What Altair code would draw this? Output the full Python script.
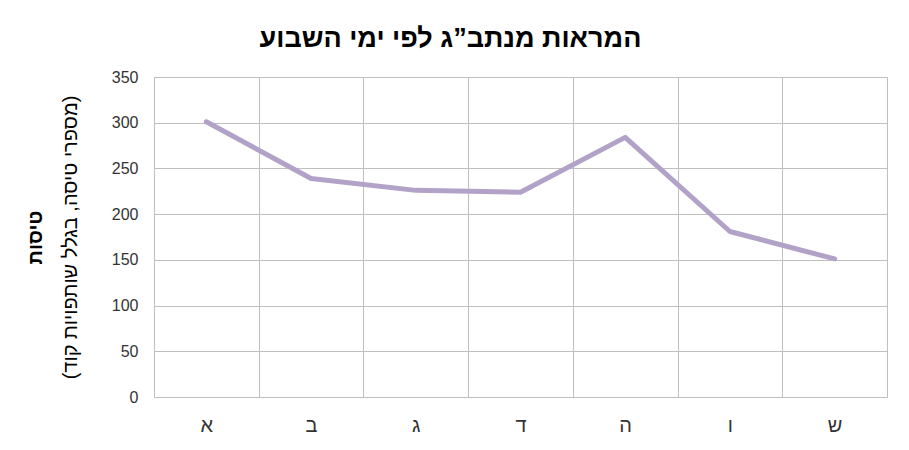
import altair as alt
import pandas as pd

days = ["א", "ב", "ג", "ד", "ה", "ו", "ש"]
flights = [301, 239, 226, 224, 284, 181, 151]
y_ticks = [0, 50, 100, 150, 200, 250, 300, 350]

df = pd.DataFrame({"day": days, "flights": flights})

FONT = "Liberation Sans"
HEB = "Liberation Sans"
GRID = "#bfbfbf"
LINE = "#b3a2c7"

x_enc = alt.X(
    "day:N",
    sort=days,
    bandPosition=0.5,
    scale=alt.Scale(type="band", paddingInner=0, paddingOuter=0),
    axis=alt.Axis(
        title=None,
        tickBand="extent",
        grid=True,
        gridColor=GRID,
        gridWidth=1,
        ticks=False,
        domain=False,
        labelAngle=0,
        labelFont=HEB,
        labelFontSize=20,
        labelColor="#333333",
        labelPadding=18,
    ),
)

line = alt.Chart(df).mark_line(
    color=LINE, strokeWidth=5, strokeCap="round", strokeJoin="round"
).encode(
    x=x_enc,
    y=alt.Y(
        "flights:Q",
        scale=alt.Scale(domain=[0, 350], nice=False),
        axis=alt.Axis(
            values=y_ticks,
            grid=True,
            gridColor=GRID,
            gridWidth=1,
            ticks=False,
            domain=False,
            labelFont=FONT,
            labelFontSize=16,
            labelColor="#333333",
            labelPadding=16,
            title="(מספרי טיסה, בגלל שותפויות קוד)",
            titleFont=HEB,
            titleFontSize=20,
            titleFontWeight="normal",
            titleColor="#000000",
            titleAngle=270,
            titleAlign="center",
            titleBaseline="middle",
            titleX=-84,
            titleY=160,
        ),
    ),
)

title_layer = alt.Chart(df).mark_line(opacity=0).encode(
    x=alt.X("day:N", sort=days, bandPosition=0.5),
    y=alt.Y(
        "flights:Q",
        scale=alt.Scale(domain=[0, 350], nice=False),
        axis=alt.Axis(
            orient="left",
            labels=False,
            ticks=False,
            domain=False,
            grid=False,
            title="טיסות",
            titleFont=HEB,
            titleFontSize=20,
            titleFontWeight="bold",
            titleColor="#000000",
            titleAngle=270,
            titleAlign="center",
            titleBaseline="middle",
            titleX=-119,
            titleY=160,
        ),
    ),
)

chart = (
    alt.layer(line, title_layer)
    .resolve_scale(y="independent")
    .properties(
        width=733,
        height=320,
        autosize=alt.AutoSizeParams(type="none"),
        padding={"left": 146, "top": 69, "right": 10, "bottom": 40},
        title=alt.TitleParams(
            text="המראות מנתב”ג לפי ימי השבוע",
            font=HEB,
            fontSize=27,
            fontWeight="bold",
            color="#000000",
            anchor="middle",
            dx=-70,
            offset=16,
        ),
    )
    .configure_view(stroke=GRID, strokeWidth=1)
    .configure(background="white")
)

chart.save("out.html", embed_options={"renderer": "svg", "actions": False})
